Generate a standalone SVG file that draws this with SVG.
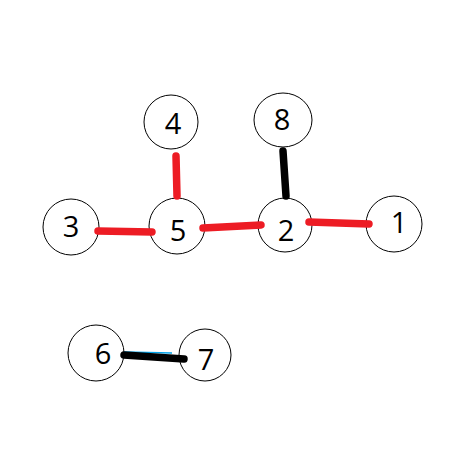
<svg xmlns="http://www.w3.org/2000/svg" width="467" height="454" viewBox="0 0 467 454">
<style>
.n{fill:#fff;stroke:#000;stroke-width:1}
.t{font-family:"Open Sans","DejaVu Sans",sans-serif;font-size:29px;fill:#000;text-anchor:middle;dominant-baseline:central}
.r{stroke:#ed1c24;stroke-width:7.5;stroke-linecap:round;fill:none}
.k{stroke:#000;stroke-width:7.5;stroke-linecap:round;fill:none}
</style>
<rect width="467" height="454" fill="#fff"/>
<g id="nodes">
<g id="n4"><circle class="n" cx="171" cy="122" r="27"/><text class="t" x="173" y="122">4</text></g>
<g id="n8"><ellipse class="n" cx="283" cy="120" rx="29" ry="27"/><text class="t" x="282" y="118">8</text></g>
<g id="n3"><circle class="n" cx="71" cy="227" r="28"/><text class="t" x="71" y="225">3</text></g>
<g id="n5"><circle class="n" cx="177" cy="226" r="28"/><text class="t" x="178" y="229">5</text></g>
<g id="n2"><circle class="n" cx="285" cy="225" r="27"/><text class="t" x="286" y="229">2</text></g>
<g id="n1"><circle class="n" cx="394" cy="224" r="28"/><text class="t" x="399" y="221">1</text></g>
<g id="n6"><circle class="n" cx="96" cy="353" r="28"/><text class="t" x="103" y="352">6</text></g>
<g id="n7"><circle class="n" cx="205" cy="355" r="26"/><text class="t" x="206" y="358">7</text></g>
</g>
<g id="edges">
<line class="r" x1="176" y1="156" x2="177" y2="196"/>
<line class="r" x1="98" y1="231" x2="152" y2="232"/>
<line class="r" x1="203" y1="228" x2="261" y2="225"/>
<line class="r" x1="309" y1="222" x2="369" y2="224"/>
<line class="k" x1="283" y1="151" x2="286" y2="196"/>
<line x1="124" y1="352" x2="172" y2="353" stroke="#00a2e8" stroke-width="1.5"/>
<line class="k" x1="124" y1="355" x2="184" y2="359"/>
</g>
</svg>
